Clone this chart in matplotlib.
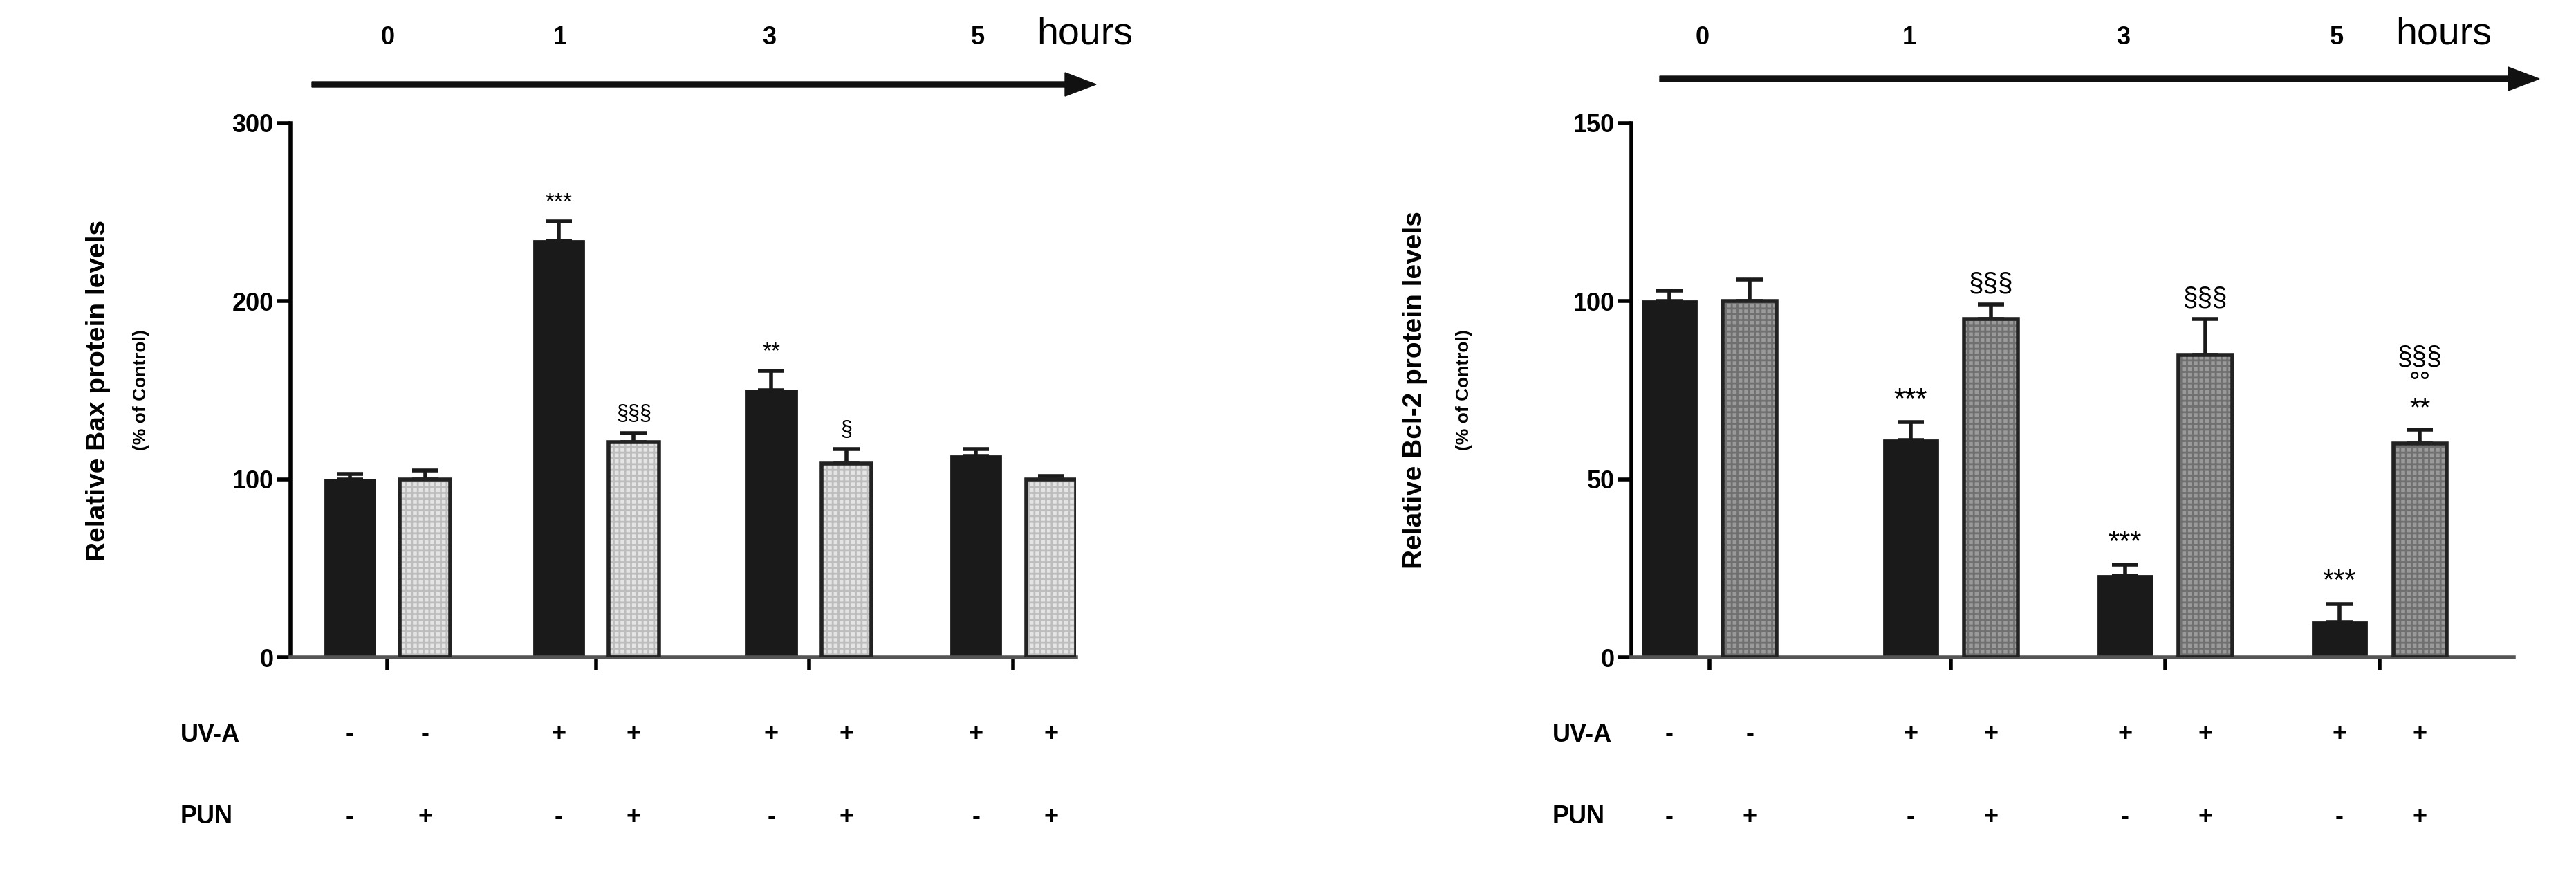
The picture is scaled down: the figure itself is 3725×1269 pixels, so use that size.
import matplotlib
matplotlib.use("Agg")
import matplotlib.pyplot as plt
import matplotlib.transforms as mtransforms
from matplotlib.patches import FancyArrow

plt.rcParams['font.family'] = 'Liberation Sans'
plt.rcParams['hatch.linewidth'] = 2.0

hours = ["0", "1", "3", "5"]
uva_black = ["-", "+", "+", "+"]
uva_gray = ["-", "+", "+", "+"]
pun_black = ["-", "-", "-", "-"]
pun_gray = ["+", "+", "+", "+"]

bax_black = [100, 234, 150, 113]
bax_black_err = [3, 11, 11, 4]
bax_gray = [100, 121, 109, 100]
bax_gray_err = [5, 5, 8, 2]
bax_black_sig = ["", "***", "**", ""]
bax_gray_sig = ["", "§§§", "§", ""]

bcl_black = [100, 61, 23, 10]
bcl_black_err = [3, 5, 3, 5]
bcl_gray = [100, 95, 85, 60]
bcl_gray_err = [6, 4, 10, 4]
bcl_black_sig = ["", "***", "***", "***"]
bcl_gray_sig = ["", "§§§", "§§§", "§§§\n°°\n**"]

W, H = 3725, 1269
fig = plt.figure(figsize=(W/100, H/100), dpi=100)

def panel(x0, x1, pos, xlim, black, berr, gray, gerr, bsig, gsig, ymax, step,
          ylabel, gcolor, hcolor, lab_x, arrow, hours_x, sigsize):
    ax = fig.add_axes([x0/W, 1-950/H, (x1-x0)/W, (950-178)/H])
    off, w = 0.18, 0.24
    xb = [p-off for p in pos]; xg = [p+off for p in pos]
    ekw = dict(ecolor='#1a1a1a', capsize=14, capthick=4, elinewidth=4)
    ax.errorbar(xb, black, yerr=[[0]*4, berr], fmt='none', zorder=1, **ekw)
    ax.errorbar(xg, gray, yerr=[[0]*4, gerr], fmt='none', zorder=1, **ekw)
    ax.bar(xb, black, w, color='#1a1a1a', edgecolor='#1a1a1a', lw=2, zorder=2)
    ax.bar(xg, gray, w, color=gcolor, edgecolor=hcolor, lw=0, hatch='++', zorder=2)
    ax.bar(xg, gray, w, fill=False, edgecolor='#222222', lw=4, zorder=3)
    for x, v, e, s in zip(xb, black, berr, bsig):
        if s:
            ax.text(x, v+e+ymax*0.015, s, ha='center', va='bottom', fontsize=sigsize)
    for x, v, e, s in zip(xg, gray, gerr, gsig):
        if s:
            ax.text(x, v+e+ymax*0.015, s, ha='center', va='bottom', fontsize=sigsize-2, linespacing=1.05)
    ax.set_xlim(*xlim); ax.set_ylim(0, ymax)
    ax.set_yticks(range(0, ymax+1, step))
    ax.set_xticks(pos); ax.set_xticklabels([])
    ax.tick_params(axis='y', labelsize=26, width=4, length=14)
    ax.tick_params(axis='x', width=4, length=14)
    for t in ax.get_yticklabels(): t.set_fontweight('bold')
    for s in ['top', 'right']: ax.spines[s].set_visible(False)
    for s in ['left', 'bottom']: ax.spines[s].set_linewidth(4)
    ax.spines['bottom'].set_color('#555555')
    ax.text(-0.245, 0.5, ylabel, transform=ax.transAxes, rotation=90, ha='center', va='center',
            fontsize=28, fontweight='bold')
    ax.text(-0.19, 0.5, "(% of Control)", transform=ax.transAxes, rotation=90, ha='center',
            va='center', fontsize=19, fontweight='bold')
    tr = mtransforms.blended_transform_factory(ax.transData, fig.transFigure)
    for xs, signs in ((xb, uva_black), (xg, uva_gray)):
        for x, s in zip(xs, signs):
            ax.text(x, 1-1062/H, s, transform=tr, ha='center', va='center', fontsize=26, fontweight='bold')
    for xs, signs in ((xb, pun_black), (xg, pun_gray)):
        for x, s in zip(xs, signs):
            ax.text(x, 1-1181/H, s, transform=tr, ha='center', va='center', fontsize=26, fontweight='bold')
    fig.text(lab_x/W, 1-1062/H, "UV-A", ha='left', va='center', fontsize=26, fontweight='bold')
    fig.text(lab_x/W, 1-1181/H, "PUN", ha='left', va='center', fontsize=26, fontweight='bold')
    a0, a1, ay = arrow
    fig.add_artist(FancyArrow(a0/W, 1-ay/H, (a1-a0)/W, 0, width=8/H, head_width=34/H,
                              head_length=45/W, length_includes_head=True, color='#111111',
                              transform=fig.transFigure))
    for hx, h in zip(hours_x, hours):
        fig.text(hx/W, 1-55/H, h, ha='center', va='center', fontsize=26, fontweight='bold')
    fig.text((hours_x[-1]+85)/W, 1-50/H, "hours", ha='left', va='center', fontsize=40)
    return ax

s = 2.376
panel(420, 1556, [0, 1, 2.02, 3.0], (-0.465, 3.30), bax_black, bax_black_err, bax_gray, bax_gray_err,
      bax_black_sig, bax_gray_sig, 300, 100, "Relative Bax protein levels",
      '#e4e4e4', '#bdbdbd', 261, (451, 1585, 122),
      [236*s, 341*s, 468*s, 595*s], 24)
panel(2359, 3635, [0, 1.08, 2.04, 3.0], (-0.35, 3.6), bcl_black, bcl_black_err, bcl_gray, bcl_gray_err,
      bcl_black_sig, bcl_gray_sig, 150, 50, "Relative Bcl-2 protein levels",
      '#9a9a9a', '#707070', 2245, (2400, 3672, 114),
      [1036*s, 1162*s, 1292*s, 1422*s], 30)
fig.savefig("out.png", dpi=100, facecolor='white')
